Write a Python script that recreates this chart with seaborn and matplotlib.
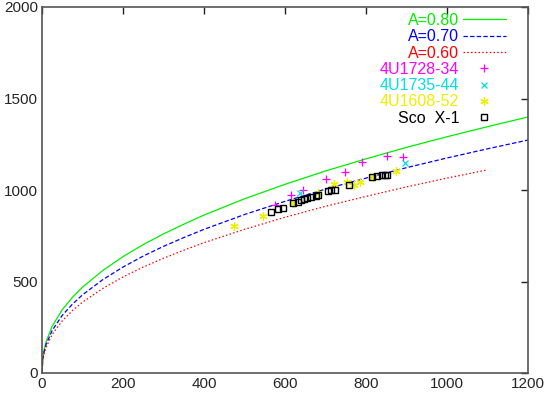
import numpy as np
import pandas as pd
import matplotlib
matplotlib.use("Agg")
import matplotlib.pyplot as plt
import seaborn as sns

# model curves
curve_x = [0, 2, 5, 10, 25, 50, 75, 100, 150, 200, 250, 300, 350, 400, 500, 600, 700, 800, 900, 1000, 1100, 1200]
a80_y = [0, 84, 125, 170, 255, 346, 413, 469, 560, 636, 702, 760, 813, 863, 952, 1031, 1104, 1170, 1233, 1291, 1346, 1399]
a70_y = [0, 76, 114, 155, 232, 315, 376, 427, 510, 579, 639, 692, 740, 785, 866, 938, 1005, 1065, 1122, 1175, 1225, 1273]
red_x = curve_x[:-1]
a60_y = [0, 69, 103, 140, 210, 285, 341, 387, 462, 525, 579, 627, 671, 712, 785, 851, 911, 965, 1017, 1065, 1110]

# sources
u1728_x = [575, 614, 644, 701, 748, 791, 852, 892]
u1728_y = [918, 973, 1000, 1058, 1097, 1151, 1186, 1179]
u1735_x = [638, 897]
u1735_y = [982, 1149]
u1608_x = [475, 545, 619, 682, 721, 752, 771, 785, 818, 873]
u1608_y = [805, 860, 931, 985, 1033, 1046, 1027, 1042, 1073, 1104]
sco_x = [565, 582, 596, 619, 631, 640, 648, 654, 664, 677, 681, 705, 714, 723, 758, 815, 826, 840, 847, 853]
sco_y = [878, 895, 903, 931, 936, 944, 949, 956, 962, 969, 974, 995, 1000, 1000, 1029, 1073, 1077, 1084, 1082, 1080]


def main():
    sns.set_style("white")
    plt.rcParams['font.family'] = ['Liberation Sans', 'DejaVu Sans']

    fig = plt.figure(figsize=(5.46, 3.95), dpi=100)
    ax = fig.add_axes([42 / 546, 1 - 373 / 395, 486 / 546, 366 / 395])

    sns.lineplot(x=curve_x, y=a80_y, ax=ax, color='#00ee00', lw=0.9, label='A=0.80')
    sns.lineplot(x=curve_x, y=a70_y, ax=ax, color='#0000ff', lw=0.9, label='A=0.70')
    sns.lineplot(x=red_x, y=a60_y, ax=ax, color='#ff0000', lw=0.9, label='A=0.60')
    ax.lines[1].set_dashes((3.5, 1.8))
    ax.lines[2].set_dashes((1.2, 1.8))

    ax.plot(u1728_x, u1728_y, ls='none', marker='+', ms=6, mew=0.9, color='#ff00ff', label='4U1728-34')
    ax.plot(u1735_x, u1735_y, ls='none', marker='x', ms=5, mew=0.9, color='#00e0e0', label='4U1735-44')
    ax.plot(u1608_x, u1608_y, ls='none', marker=(6, 2, 0), ms=6, mew=0.9, color='#eeee00', label='4U1608-52')
    ax.plot(sco_x, sco_y, ls='none', marker='s', ms=5, mew=1.0, mfc='none', color='black', label='Sco  X-1')

    ax.set_xlim(0, 1200)
    ax.set_ylim(0, 2000)
    ax.set_xticks(range(0, 1201, 200))
    ax.set_yticks(range(0, 2001, 500))
    ax.tick_params(direction='in', length=5, width=1, top=True, right=True,
                   labelsize=11, pad=3, color='#222222')
    for sp in ax.spines.values():
        sp.set_color('#555555')
        sp.set_linewidth(1.2)

    leg = ax.legend(loc='upper right', frameon=False, markerfirst=False, fontsize=11.5,
                    handlelength=2.7, handletextpad=0.2, labelspacing=0.08,
                    borderaxespad=0.3, bbox_to_anchor=(0.977, 1.014))
    label_colors = ['#00ee00', '#0000ff', '#ff0000', '#ff00ff', '#00e0e0', '#eeee00', 'black']
    for txt, c in zip(leg.get_texts(), label_colors):
        txt.set_color(c)

    fig.savefig('out.png', dpi=100)
    plt.close(fig)


if __name__ == "__main__":
    main()
